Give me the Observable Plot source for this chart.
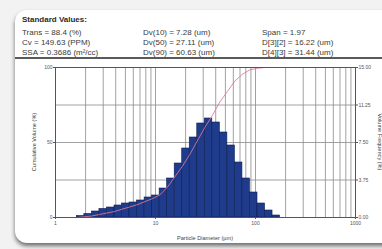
<!DOCTYPE html>
<html>
<head>
<meta charset="utf-8">
<script src="https://cdn.jsdelivr.net/npm/d3@7"></script>
<script src="https://cdn.jsdelivr.net/npm/@observablehq/plot@0.6"></script>
<style>
  html, body { margin: 0; padding: 0; }
  body { width: 382px; height: 249px; overflow: hidden; background: #f2f2f2; position: relative;
         font-family: "Liberation Sans", Arial, sans-serif; }
  #card { position: absolute; left: 15px; top: 10px; width: 420px; height: 233px; background: #fff;
          border-radius: 12px; box-shadow: 0 3px 4px rgba(0,0,0,0.55); }
  .hdr { position: absolute; font-size: 8px; color: #3a3a3a; white-space: nowrap; line-height: 1; }
  .hdr b { color: #2a2a2a; }
  #rule { position: absolute; left: 15px; top: 57px; width: 367px; height: 2px; background: #5a5a5a; }
  #chart { position: absolute; left: 0; top: 60px; }
  .ttl { position: absolute; font-size: 5.6px; color: #444; white-space: nowrap; line-height: 1; }
</style>
</head>
<body>
<div id="card"></div>
<div id="rule"></div>
<div id="chart"></div>
<script>
// ---- data ----
const headerTitle = "Standard Values:";
const col1 = ["Trans = 88.4 (%)", "Cv = 149.63 (PPM)", "SSA = 0.3686 (m²/cc)"];
const col2 = ["Dv(10) = 7.28 (um)", "Dv(50) = 27.11 (um)", "Dv(90) = 60.63 (um)"];
const col3 = ["Span = 1.97", "D[3][2] = 16.22 (um)", "D[4][3] = 31.44 (um)"];

// bin edges (µm), log-spaced channels
const binEdges = [1.375,1.635,1.945,2.312,2.75,3.27,3.89,4.62,5.50,6.54,7.78,9.25,11.0,13.08,15.56,18.5,22.0,26.16,31.11,37.0,44.0,52.33,62.23,74.0,88.0,104.7,124.5,148.0,176.0];
// volume frequency (%) per bin
const freq = [0,0.15,0.35,0.6,0.85,1.0,1.2,1.4,1.5,1.7,2.0,2.2,2.9,3.9,5.4,6.9,8.0,9.4,9.9,9.5,8.5,7.2,5.5,3.9,2.5,1.4,0.7,0.2];
// cumulative volume (%) at bin edges
const cumulative = [0,0,0.5,1,2,3,4,5.5,7,8.5,10.5,12.5,15,20,27,34,42,51,60,68,77,84,91,95.5,98.5,99.5,100,100,100];

const xTicks = [1, 10, 100, 1000];
const leftTicks = [0, 50, 100];
const rightTickPos = [0, 25, 50, 75, 100];
const rightTickLabels = ["0.00", "3.75", "7.50", "11.25", "15.00"];
const freqMax = 15;   // right axis top
const cumMax = 100;   // left axis top

const xTitle = "Particle Diameter (µm)";
const yLeftTitle = "Cumulative Volume (%)";
const yRightTitle = "Volume Frequency (%)";

// ---- header text ----
function addText(txt, x, y, cls, bold) {
  const d = document.createElement("div");
  d.className = cls;
  d.style.left = x + "px"; d.style.top = y + "px";
  if (bold) { const b = document.createElement("b"); b.textContent = txt; d.appendChild(b); }
  else d.textContent = txt;
  document.body.appendChild(d);
  return d;
}
addText(headerTitle, 22, 16, "hdr", true);
const rowY = [28.5, 38.5, 48.5];
col1.forEach((t, i) => addText(t, 22, rowY[i], "hdr"));
col2.forEach((t, i) => addText(t, 143, rowY[i], "hdr"));
col3.forEach((t, i) => addText(t, 262, rowY[i], "hdr"));

// ---- chart ----
const bins = freq.map((f, i) => ({lo: binEdges[i], hi: binEdges[i + 1], f}));
const cum = cumulative.map((c, i) => ({d: binEdges[i], c}));
const gridX = [];
for (let k = 0; k < 3; k++) for (let m = 1; m < 10; m++) gridX.push(m * Math.pow(10, k));
gridX.push(1000);

const plot = Plot.plot({
  width: 382,
  height: 183,
  marginTop: 7,
  marginBottom: 26,
  marginLeft: 55,
  marginRight: 27,
  style: {background: "transparent", fontSize: "5px", fontFamily: "Liberation Sans, Arial, sans-serif", color: "#555"},
  x: {type: "log", domain: [1, 1000]},
  y: {domain: [0, cumMax]},
  marks: [
    Plot.ruleX(gridX, {stroke: "#8a8a8a", strokeWidth: 0.8}),
    Plot.ruleY([25, 50, 75], {stroke: "#8a8a8a", strokeWidth: 0.8}),
    Plot.rectY(bins, {x1: "lo", x2: "hi", y: d => d.f * cumMax / freqMax,
      fill: "#1f3c8c", stroke: "#0e1d52", strokeWidth: 0.6}),
    Plot.line(cum, {x: "d", y: "c", stroke: "#e07890", strokeOpacity: 0.85, strokeWidth: 1}),
    Plot.frame({stroke: "#555", strokeWidth: 1}),
    Plot.axisX({ticks: xTicks, tickFormat: d => String(d), tickSize: 2, tickPadding: 2, label: null}),
    Plot.axisY({anchor: "left", ticks: leftTicks, tickFormat: d => String(d), tickSize: 2, tickPadding: 1, label: null}),
    Plot.axisY({anchor: "right", ticks: rightTickPos, tickFormat: (d, i) => rightTickLabels[rightTickPos.indexOf(d)], tickSize: 2, tickPadding: 1, label: null})
  ]
});
document.getElementById("chart").appendChild(plot);

// axis titles
const xt = addText(xTitle, 205, 236, "ttl");
xt.style.transform = "translateX(-50%)";
const yl = addText(yLeftTitle, 35, 142, "ttl");
yl.style.transform = "translate(-50%, -50%) rotate(-90deg)";
const yr = addText(yRightTitle, 379, 142, "ttl");
yr.style.transform = "translate(-50%, -50%) rotate(90deg)";
</script>
</body>
</html>
